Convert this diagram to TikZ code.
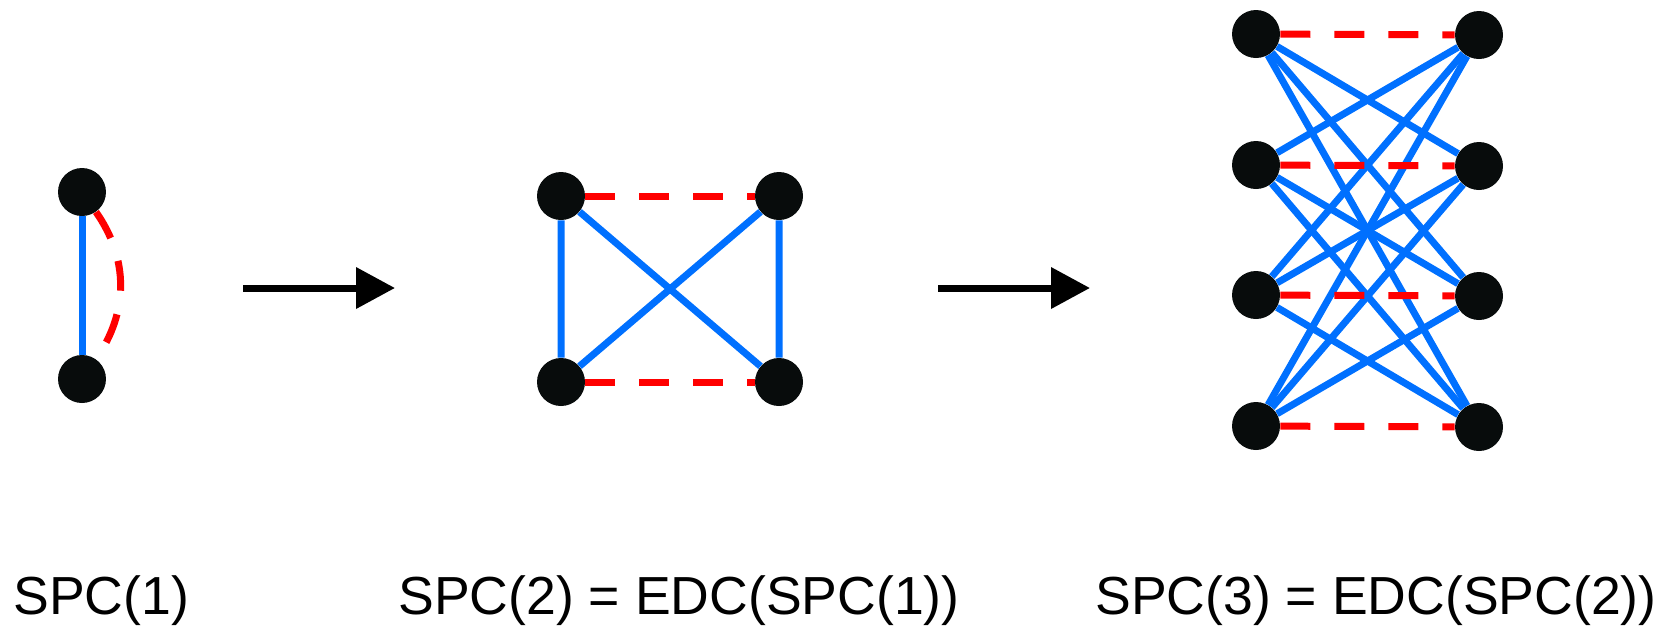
\documentclass[tikz,border=0pt]{standalone}
\usepackage{fontspec}
\setmainfont{Liberation Sans}
\usepackage{tikz}
\usetikzlibrary{arrows.meta,positioning,calc}
\definecolor{EdgeBlue}{RGB}{0,112,255}
\definecolor{EdgeRed}{RGB}{255,0,0}
\definecolor{VertBlack}{RGB}{8,12,12}
\tikzset{
  vert/.style={circle,fill=VertBlack,minimum size=0.96cm,inner sep=0pt},
  solidedge/.style={EdgeBlue,line width=0.14cm},
  dashedge/.style={EdgeRed,line width=0.14cm,dash pattern=on 0.6cm off 0.48cm},
  steparrow/.style={line width=0.14cm,-{Triangle[length=0.78cm,width=0.8cm]}},
  caption/.style={anchor=base west,inner sep=0pt,font=\fontsize{30.5pt}{36pt}\selectfont}
}

\begin{document}
\begin{tikzpicture}[x=0.02cm,y=-0.02cm]
\useasboundingbox (0,0) rectangle (1659,627);
% SPC(1)
\node[vert] (a1) at (82,192) {};
\node[vert] (a2) at (82,379) {};
\draw[solidedge] (a1)--(a2);
\draw[dashedge] (a1) to[out=-55,in=55] (a2);
% first step
\coordinate (s1) at (243,288);
\coordinate (t1) at (395,288);
\draw[steparrow] (s1)--(t1);
% SPC(2)
\node[vert] (b1) at (561,196) {};
\node[vert] (b2) at (779,196) {};
\node[vert] (b3) at (561,382) {};
\node[vert] (b4) at (779,382) {};
\draw[solidedge] (b1)--(b3) (b2)--(b4) (b1)--(b4) (b2)--(b3);
\draw[dashedge] (b1)--(b2) (b3)--(b4);
% second step
\coordinate (s2) at (938,288);
\coordinate (t2) at (1090,288);
\draw[steparrow] (s2)--(t2);
% SPC(3)
\foreach \i/\y in {1/34,2/165,3/295,4/426} {
  \node[vert] (l\i) at (1256,\y) {};
  \node[vert] (r\i) at (1479,\y+1) {};
}
\foreach \i in {1,...,4} {
  \foreach \j in {1,...,4} {
    \ifnum\i=\j\else\draw[solidedge] (l\i)--(r\j);\fi
  }
}
\foreach \i in {1,...,4} \draw[dashedge] (l\i)--(r\i);
% labels
\node[caption] (c1) at (13,614) {SPC(1)};
\node[caption] (c2) at (398,614) {SPC(2) = EDC(SPC(1))};
\node[caption] (c3) at (1095,614) {SPC(3) = EDC(SPC(2))};
\end{tikzpicture}
\end{document}
